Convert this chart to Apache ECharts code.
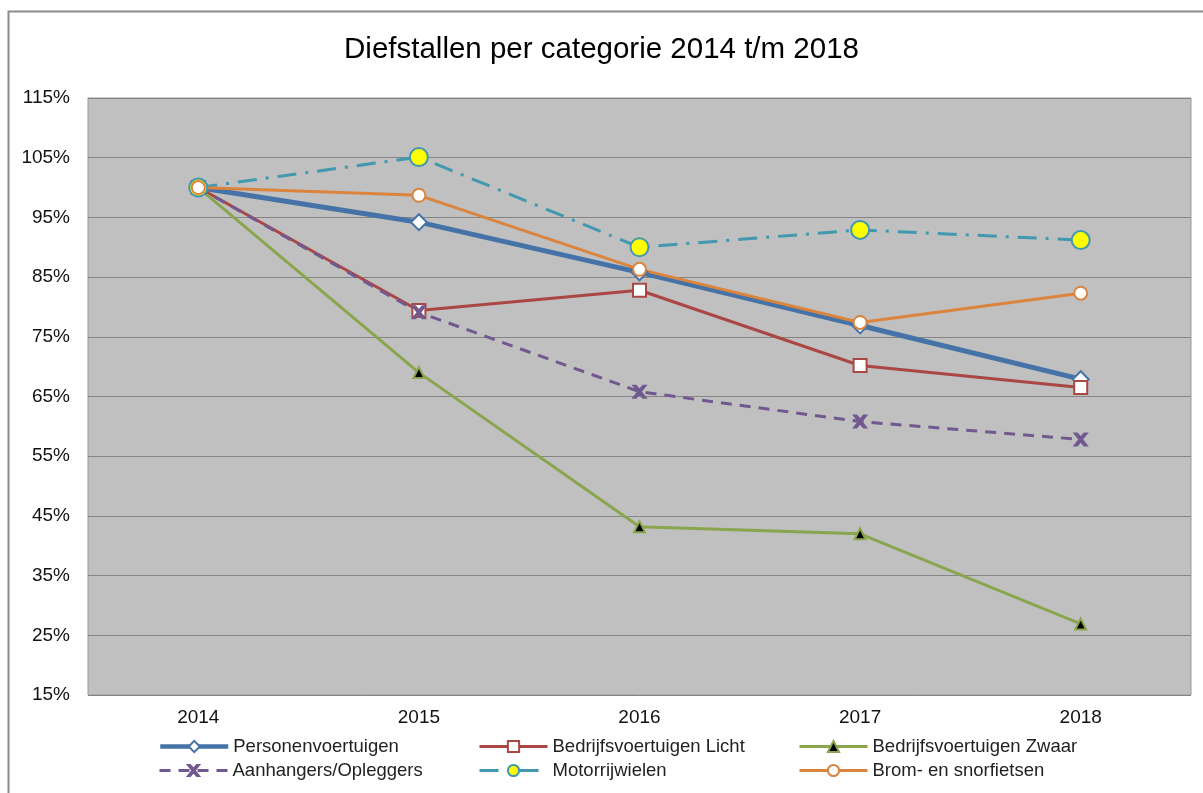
<!DOCTYPE html>
<html>
<head>
<meta charset="utf-8">
<script src="https://cdn.jsdelivr.net/npm/echarts@6/dist/echarts.min.js"></script>
<style>
  html, body { margin: 0; padding: 0; background: #fff; }
  #chart { width: 1203px; height: 793px; }
</style>
</head>
<body>
<div id="chart"></div>
<script>
  const jaren = ['2014', '2015', '2016', '2017', '2018'];

  const personen = [100, 94.2, 85.8, 76.9, 67.9];
  const bedrijfLicht = [100, 79.4, 82.8, 70.2, 66.5];
  const bedrijfZwaar = [100, 69.0, 43.2, 42.0, 26.9];
  const aanhangers = [100, 79.1, 65.8, 60.8, 57.8];
  const motor = [100, 105.1, 90.0, 92.9, 91.2];
  const brom = [100, 98.7, 86.3, 77.4, 82.3];

  const kruis = 'path://M0,0 L2,0 L5,3.5 L8,0 L10,0 L6,5 L10,10 L8,10 L5,6.5 L2,10 L0,10 L4,5 Z';

  const lijn = (naam, data, kleur, breedte, type, symbool, grootte, vulling) => ({
    name: naam,
    type: 'line',
    data: data,
    symbol: symbool,
    symbolSize: grootte,
    lineStyle: { color: kleur, width: breedte, type: type },
    itemStyle: { color: vulling, borderColor: kleur, borderWidth: 2 },
    emphasis: { disabled: true },
    animation: false
  });

  // één legenda per item, zodat de kolommen net als in Excel uitlijnen
  const legenda = (naam, links, boven, dikte) => ({
    data: [naam],
    left: links, top: boven, padding: 0,
    itemWidth: 68, itemHeight: 14, itemGap: 4,
    lineStyle: { width: dikte },
    textStyle: { fontFamily: 'Liberation Sans', fontSize: 18.5, color: '#222' }
  });

  const chart = echarts.init(document.getElementById('chart'));

  chart.setOption({
    title: {
      text: 'Diefstallen per categorie 2014 t/m 2018',
      left: 'center',
      top: 30,
      textStyle: { fontFamily: 'Liberation Sans', fontSize: 29.5, fontWeight: 'normal', color: '#000' }
    },
    graphic: [{
      type: 'rect',
      shape: { x: 8.5, y: 11.5, width: 1220, height: 800 },
      style: { fill: null, stroke: '#8a8a8a', lineWidth: 2 }
    }],
    legend: [
      legenda('Personenvoertuigen', 158, 737, 4.5),
      legenda('Bedrijfsvoertuigen Licht', 478, 737, 3),
      legenda('Bedrijfsvoertuigen Zwaar', 798, 737, 3),
      legenda('Aanhangers/Opleggers', 158, 761, 3),
      legenda('Motorrijwielen', 478, 761, 3),
      legenda('Brom- en snorfietsen', 798, 761, 3)
    ],
    grid: {
      left: 88, top: 98, right: 12, bottom: 98,
      show: true, backgroundColor: '#C0C0C0', borderColor: '#9a9a9a', borderWidth: 1
    },
    xAxis: {
      type: 'category',
      data: jaren,
      boundaryGap: true,
      axisLine: { show: false },
      axisTick: { show: false },
      axisLabel: { fontFamily: 'Liberation Sans', fontSize: 19, color: '#111', margin: 13 }
    },
    yAxis: {
      type: 'value',
      min: 15, max: 115, interval: 10,
      axisLine: { show: false },
      axisTick: { show: false },
      splitLine: { lineStyle: { color: '#858585', width: 1 } },
      axisLabel: { fontFamily: 'Liberation Sans', fontSize: 19, color: '#111', margin: 18, formatter: '{value}%' }
    },
    series: [
      lijn('Personenvoertuigen', personen, '#4572A7', 5, 'solid', 'diamond', 16, '#fff'),
      lijn('Bedrijfsvoertuigen Licht', bedrijfLicht, '#AA4643', 3, 'solid', 'rect', 13, '#fff'),
      lijn('Bedrijfsvoertuigen Zwaar', bedrijfZwaar, '#89A54E', 3, 'solid', 'triangle', 11, '#000'),
      lijn('Aanhangers/Opleggers', aanhangers, '#71588F', 3, [11, 8], kruis, 12, '#71588F'),
      lijn('Motorrijwielen', motor, '#4198AF', 3, [19, 9, 3, 9], 'circle', 18, '#FFFF00'),
      lijn('Brom- en snorfietsen', brom, '#DB843D', 3, 'solid', 'circle', 13, '#fff')
    ]
  });
</script>
</body>
</html>
